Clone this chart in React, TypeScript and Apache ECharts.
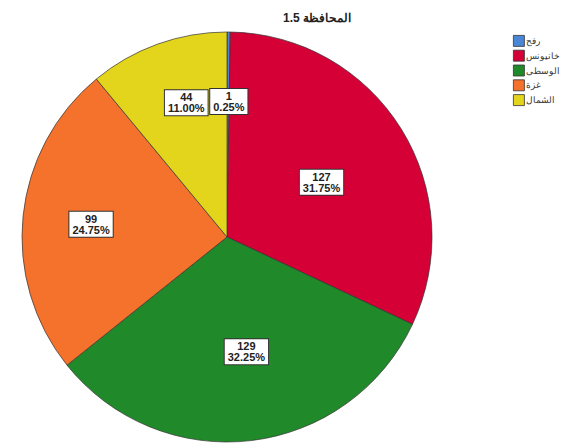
import React, { useEffect, useRef } from "react";
import * as echarts from "echarts";

const categories = ["رفح", "خانيونس", "الوسطى", "غزة", "الشمال"];
const counts = [1, 127, 129, 99, 44];
const percents = ["0.25%", "31.75%", "32.25%", "24.75%", "11.00%"];
const colors = ["#4a86d6", "#d40036", "#208a2a", "#f4722b", "#e3d51c"];
const labelOffsets = [[1, -30], [5, 1], [7, 10], [-31, -2], [-5, -35]];

export default function App() {
  const ref = useRef<HTMLDivElement>(null);
  useEffect(() => {
    if (!ref.current) return;
    const chart = echarts.init(ref.current, null, { renderer: "svg" });
    chart.setOption({
      animation: false,
      backgroundColor: "#ffffff",
      title: {
        text: "المحافظة 1.5",
        left: 283,
        top: 12,
        padding: 0,
        textStyle: { fontFamily: "Liberation Sans", fontSize: 12, fontWeight: "bold", color: "#222" },
      },
      legend: {
        orient: "vertical",
        left: 513,
        top: 35,
        padding: 0,
        itemWidth: 11,
        itemHeight: 11,
        itemGap: 3,
        icon: "rect",
        textStyle: { fontFamily: "Liberation Sans", fontSize: 9, color: "#333", padding: [0, 0, 0, -3] },
        itemStyle: { borderColor: "#333", borderWidth: 0.8 },
        data: categories,
      },
      series: [
        {
          type: "pie",
          center: [227, 237],
          radius: 205,
          startAngle: 90,
          clockwise: true,
          avoidLabelOverlap: false,
          labelLayout: { hideOverlap: false },
          itemStyle: { borderColor: "#333", borderWidth: 0.7 },
          label: {
            show: true,
            position: "inside",
            fontFamily: "Liberation Sans",
            fontSize: 11,
            fontWeight: "bold",
            color: "#222",
            backgroundColor: "#ffffff",
            borderColor: "#333",
            borderWidth: 1,
            padding: [2, 3, 1, 3],
            lineHeight: 11,
            align: "center",
            formatter: (p: any) => `${counts[p.dataIndex]}\n${percents[p.dataIndex]}`,
          },
          labelLine: { show: false },
          emphasis: { disabled: true },
          data: categories.map((c, i) => ({
            name: c,
            value: counts[i],
            itemStyle: { color: colors[i] },
            label: { offset: labelOffsets[i] },
          })),
        },
      ],
    });
    return () => chart.dispose();
  }, []);
  return (
    <div
      ref={ref}
      style={{ position: "fixed", left: 0, top: 0, width: 561, height: 443, boxShadow: "inset 4px 3px 4px -2px #e2e2e2" }}
    />
  );
}
